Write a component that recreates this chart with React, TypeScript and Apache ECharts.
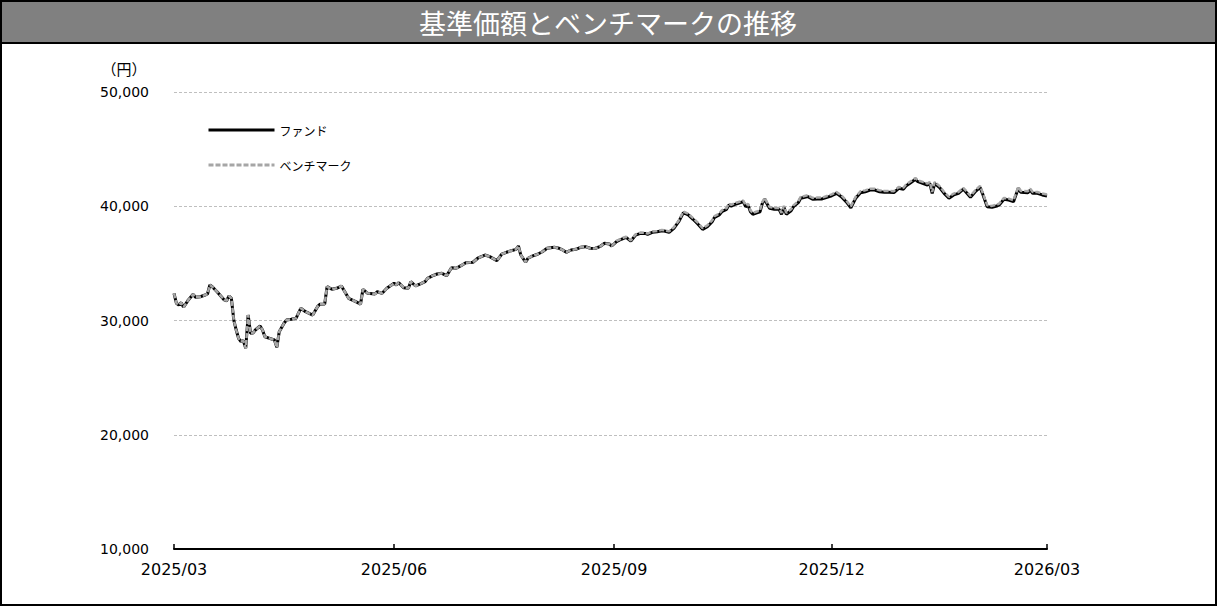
import React, { useEffect, useRef } from "react";
import * as echarts from "echarts";

const dates: string[] = [
  "2025-03-01","2025-03-02","2025-03-03","2025-03-04","2025-03-05","2025-03-07","2025-03-09","2025-03-10","2025-03-12","2025-03-14","2025-03-15","2025-03-16","2025-03-17","2025-03-19","2025-03-22","2025-03-23","2025-03-24","2025-03-25","2025-03-26","2025-03-27","2025-03-28","2025-03-29","2025-03-30","2025-03-31",
  "2025-04-01","2025-04-02","2025-04-03","2025-04-04","2025-04-06","2025-04-07","2025-04-08","2025-04-10","2025-04-12","2025-04-13","2025-04-14","2025-04-16","2025-04-17","2025-04-19","2025-04-21","2025-04-23","2025-04-25","2025-04-28","2025-04-30",
  "2025-05-01","2025-05-03","2025-05-04","2025-05-06","2025-05-08","2025-05-10","2025-05-13","2025-05-16","2025-05-18","2025-05-19","2025-05-21","2025-05-24","2025-05-25","2025-05-27","2025-05-29",
  "2025-06-01","2025-06-02","2025-06-03","2025-06-05","2025-06-07","2025-06-08","2025-06-10","2025-06-12","2025-06-14","2025-06-15","2025-06-17","2025-06-19","2025-06-21","2025-06-23","2025-06-25","2025-06-27","2025-06-29",
  "2025-07-01","2025-07-04","2025-07-06","2025-07-09","2025-07-11","2025-07-14","2025-07-16","2025-07-18","2025-07-20","2025-07-22","2025-07-23","2025-07-24","2025-07-26","2025-07-27","2025-07-29","2025-07-31",
  "2025-08-02","2025-08-04","2025-08-07","2025-08-09","2025-08-10","2025-08-12","2025-08-14","2025-08-16","2025-08-18","2025-08-20","2025-08-22","2025-08-24","2025-08-26","2025-08-28","2025-08-30","2025-08-31",
  "2025-09-02","2025-09-04","2025-09-06","2025-09-08","2025-09-10","2025-09-12","2025-09-14","2025-09-15","2025-09-17","2025-09-19","2025-09-21","2025-09-22","2025-09-24","2025-09-26","2025-09-28","2025-09-30",
  "2025-10-02","2025-10-04","2025-10-06","2025-10-08","2025-10-10","2025-10-12","2025-10-13","2025-10-15","2025-10-16","2025-10-18","2025-10-19","2025-10-20","2025-10-22","2025-10-23","2025-10-25","2025-10-26","2025-10-27","2025-10-28","2025-10-29","2025-10-31",
  "2025-11-01","2025-11-02","2025-11-03","2025-11-04","2025-11-05","2025-11-07","2025-11-09","2025-11-10","2025-11-11","2025-11-12","2025-11-14","2025-11-15","2025-11-17","2025-11-18","2025-11-21","2025-11-23","2025-11-25","2025-11-27","2025-11-29",
  "2025-12-01","2025-12-03","2025-12-05","2025-12-07","2025-12-09","2025-12-11","2025-12-13","2025-12-15","2025-12-17","2025-12-19","2025-12-21","2025-12-23","2025-12-25","2025-12-27","2025-12-29","2025-12-31",
  "2026-01-01","2026-01-03","2026-01-05","2026-01-06","2026-01-08","2026-01-10","2026-01-11","2026-01-12","2026-01-13","2026-01-15","2026-01-17","2026-01-19","2026-01-21","2026-01-23","2026-01-25","2026-01-26","2026-01-28","2026-01-30",
  "2026-02-01","2026-02-02","2026-02-04","2026-02-06","2026-02-08","2026-02-09","2026-02-11","2026-02-13","2026-02-15","2026-02-17","2026-02-18","2026-02-21","2026-02-22","2026-02-23","2026-02-25","2026-02-27",
  "2026-03-01",
];

const fund: number[] = [
  32380,31510,31360,31560,31160,31800,32290,32030,32080,32230,32320,33110,32960,32520,31800,31730,32150,31940,30040,29170,28440,28150,28230,27570,
  30480,28880,28900,29170,29520,29170,28580,28440,28290,27650,29020,29760,30040,30110,30190,31070,30770,30480,31210,
  31420,31450,32960,32730,32820,33020,31940,31650,31440,32730,32380,32320,32520,32380,32820,
  33260,33110,33310,32870,32820,33400,33020,33200,33400,33690,33900,34070,34130,33920,34620,34570,34800,
  35060,35100,35450,35730,35590,35240,35800,35970,36110,36230,36520,35730,35100,35450,35650,35800,
  36020,36320,36410,36320,36230,35970,36170,36230,36410,36460,36320,36300,36460,36760,36700,36520,
  36900,37110,37280,36950,37480,37630,37620,37550,37720,37770,37860,37830,37720,38070,38650,39440,
  39240,38860,38450,37980,38210,38650,39030,39240,39520,39730,40110,40020,40200,40260,40400,39960,40110,39520,39300,39440,
  39520,40260,40610,40200,39820,39730,39730,39300,39910,39300,39610,39960,40310,40700,40840,40610,40640,40640,40780,
  40920,41130,40840,40400,39870,40700,41190,41270,41420,41420,41270,41220,41220,41200,41570,41490,
  41770,42060,42360,42150,42010,41860,42010,41130,42010,41660,41130,40700,40990,41130,41490,41270,40780,41270,
  41660,41130,39960,39910,40020,40110,40610,40550,40400,41570,41220,41190,41420,41130,41130,40990,
  40900,
];

const benchmark: number[] = [
  32380,31510,31360,31560,31160,31800,32290,32030,32080,32230,32320,33110,32960,32520,31800,31730,32150,31940,30040,29170,28440,28150,28230,27570,
  30480,28880,28900,29170,29520,29170,28580,28440,28290,27650,29020,29760,30040,30110,30190,31070,30770,30480,31210,
  31420,31450,32960,32730,32820,33020,31940,31650,31440,32730,32380,32320,32520,32380,32820,
  33260,33110,33310,32870,32820,33400,33020,33200,33400,33690,33900,34070,34130,33920,34620,34570,34800,
  35060,35100,35450,35730,35590,35240,35800,35970,36110,36230,36520,35730,35100,35450,35650,35800,
  36020,36320,36410,36320,36230,35970,36170,36230,36410,36460,36320,36300,36460,36760,36700,36520,
  36960,37170,37340,37010,37540,37690,37680,37610,37790,37840,37930,37900,37800,38160,38740,39540,
  39340,38960,38560,38090,38320,38760,39140,39350,39630,39840,40220,40130,40310,40370,40510,40070,40220,39640,39420,39560,
  39640,40380,40730,40320,39940,39850,39850,39420,40030,39420,39730,40080,40430,40820,40960,40730,40760,40760,40900,
  41040,41250,40960,40520,39990,40820,41310,41390,41540,41540,41390,41340,41340,41320,41690,41610,
  41890,42180,42480,42270,42130,41980,42130,41250,42130,41780,41250,40820,41110,41250,41610,41390,40900,41390,
  41780,41250,40080,40030,40140,40230,40730,40670,40520,41690,41340,41310,41540,41250,41250,41110,
  41020,
];

const tickDates: string[] = ["2025-03-01", "2025-06-01", "2025-09-01", "2025-12-01", "2026-03-01"];
const tickLabels: string[] = ["2025/03", "2025/06", "2025/09", "2025/12", "2026/03"];
const seriesNames: string[] = ["ファンド", "ベンチマーク"];
const titleText = "基準価額とベンチマークの推移";
const unitText = "（円）";
const yMin = 10000;
const yMax = 50000;
const yStep = 10000;

const START = Date.UTC(2025, 2, 1);
const dayOf = (s: string) => Math.round((Date.parse(s + "T00:00:00Z") - START) / 86400000);

export default function App() {
  const ref = useRef<HTMLDivElement | null>(null);

  useEffect(() => {
    document.body.style.margin = "0";
    if (!ref.current) return;
    const chart = echarts.init(ref.current, undefined, { renderer: "svg" });
    const tickDays = tickDates.map(dayOf);
    const fundData = dates.map((d, i) => [dayOf(d), fund[i]]);
    const benchData = dates.map((d, i) => [dayOf(d), benchmark[i]]);
    const numFont = "DejaVu Sans";
    const jpFont = "Noto Sans CJK JP";

    chart.setOption({
      animation: false,
      backgroundColor: "#fff",
      grid: { left: 174, right: 170, top: 92, bottom: 57, containLabel: false },
      legend: {
        orient: "vertical",
        left: 207,
        top: 124,
        padding: 0,
        itemWidth: 66,
        itemHeight: 14,
        itemGap: 23,
        data: seriesNames,
        itemStyle: { opacity: 0 },
        lineStyle: { width: 3 },
        textStyle: { fontSize: 12, fontFamily: jpFont, color: "#000" },
      },
      xAxis: {
        type: "value",
        min: tickDays[0],
        max: tickDays[tickDays.length - 1],
        axisLine: { show: true, lineStyle: { color: "#000", width: 2 } },
        axisTick: {
          show: true,
          inside: true,
          length: 5,
          customValues: tickDays,
          lineStyle: { color: "#000", width: 1.5 },
        },
        axisLabel: {
          customValues: tickDays,
          formatter: (v: number) => {
            const idx = tickDays.indexOf(Math.round(v));
            return idx >= 0 ? tickLabels[idx] : "";
          },
          fontSize: 16,
          fontFamily: numFont,
          color: "#000",
          margin: 12,
        },
        splitLine: { show: false },
      },
      yAxis: {
        type: "value",
        min: yMin,
        max: yMax,
        interval: yStep,
        axisLine: { show: false },
        axisTick: { show: false },
        axisLabel: {
          formatter: (v: number) => v.toLocaleString("en-US"),
          fontSize: 14,
          fontFamily: numFont,
          color: "#000",
          margin: 25,
        },
        splitLine: { show: true, lineStyle: { color: "#bfbfbf", type: [3, 2], width: 1 } },
      },
      series: [
        {
          name: seriesNames[0],
          type: "line",
          data: fundData,
          symbol: "none",
          lineStyle: { color: "#000", width: 3 },
          itemStyle: { color: "#000" },
          z: 2,
        },
        {
          name: seriesNames[1],
          type: "line",
          data: benchData,
          symbol: "none",
          lineStyle: { color: "#a6a6a6", width: 2.5, type: [5, 2] },
          itemStyle: { color: "#a6a6a6" },
          z: 3,
        },
      ],
      graphic: [
        {
          type: "rect",
          shape: { x: 0, y: 0, width: 1217, height: 43 },
          style: { fill: "#808080", stroke: "none" },
          z: 10,
        },
        {
          type: "line",
          shape: { x1: 0, y1: 43, x2: 1217, y2: 43 },
          style: { stroke: "#000", lineWidth: 2 },
          z: 11,
        },
        {
          type: "rect",
          shape: { x: 1, y: 1, width: 1215, height: 604 },
          style: { fill: "none", stroke: "#000", lineWidth: 2 },
          z: 12,
        },
        {
          type: "text",
          x: 608,
          y: 22,
          style: {
            text: titleText,
            fill: "#fff",
            font: `27px "${jpFont}"`,
            align: "center",
            verticalAlign: "middle",
          },
          z: 13,
        },
        {
          type: "text",
          x: 124,
          y: 68,
          style: {
            text: unitText,
            fill: "#000",
            font: `15px "${jpFont}"`,
            align: "center",
            verticalAlign: "middle",
          },
          z: 13,
        },
      ],
    });

    return () => {
      chart.dispose();
    };
  }, []);

  return <div ref={ref} style={{ width: 1217, height: 606 }} />;
}
